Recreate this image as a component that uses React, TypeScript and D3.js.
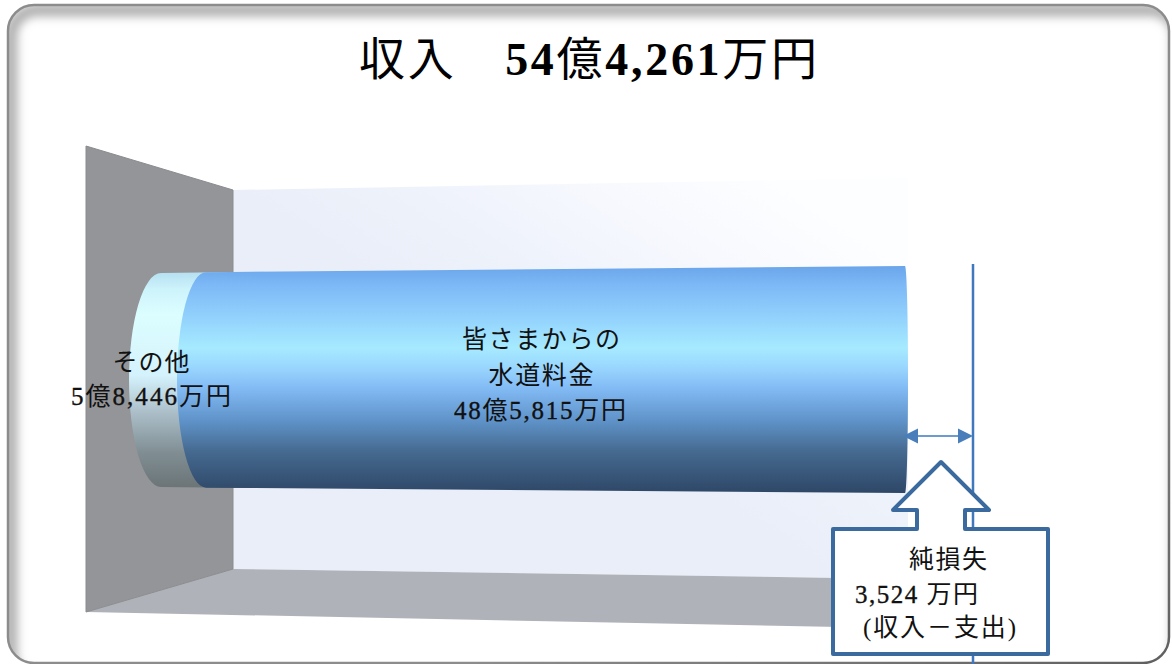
import React from "react";
import * as d3 from "d3";

// Amounts in units of 10,000 yen
const segmentNames = ["その他", "水道料金"];
const segmentValues = [58446, 485815];
const netLoss = 3524;

const titleText = "収入　54億4,261万円";
const otherLabel = ["その他", "5億8,446万円"];
const waterLabel = ["皆さまからの", "水道料金", "48億5,815万円"];
const lossLabel = ["純損失", "3,524 万円", "(収入－支出)"];

const W = 1172;
const H = 664;
const FONT = "'Liberation Serif','Noto Sans CJK JP',serif";
const total = d3.sum(segmentValues);

// The bar is drawn in perspective, so each stretch has its own pixel rate
const x = d3
  .scaleLinear()
  .domain([0, segmentValues[0], total, total + netLoss])
  .range([161, 206, 905, 973]);
const yTop = d3.scaleLinear().domain([0, total]).range([273, 266]);
const yBottom = d3.scaleLinear().domain([0, total]).range([487, 493]);

const stack = d3.pairs([0, ...d3.cumsum(segmentValues)]);
const capRx = [32, 29];

function cylinderPath(v0: number, v1: number, rxLeft: number, rxRight: number) {
  const x0 = x(v0);
  const x1 = x(v1);
  const t0 = yTop(v0);
  const t1 = yTop(v1);
  const b0 = yBottom(v0);
  const b1 = yBottom(v1);
  const ryL = (b0 - t0) / 2;
  const ryR = (b1 - t1) / 2;
  return (
    `M${x0},${t0}L${x1},${t1}` +
    `A${rxRight},${ryR} 0 0 1 ${x1},${b1}` +
    `L${x0},${b0}` +
    `A${rxLeft},${ryL} 0 0 1 ${x0},${t0}Z`
  );
}

const outline = d3.line();

const wallLeft: [number, number][] = [[86, 146], [233, 190], [233, 569], [86, 612]];
const wallBack: [number, number][] = [[233, 190], [908, 178], [908, 579], [233, 569]];
const floor: [number, number][] = [[233, 569], [86, 612], [840, 627], [840, 578]];
const calloutShape: [number, number][] = [
  [941, 462], [989, 510], [965, 510], [965, 529], [1048, 529], [1048, 654],
  [833, 654], [833, 529], [917, 529], [917, 510], [893, 510],
];

const waterStops: [string, string][] = [
  ["0%", "#6aa5ea"], ["8%", "#7cb8f6"], ["24%", "#94d4fd"], ["36%", "#a6eaff"],
  ["44%", "#9bd8ff"], ["54%", "#82baf4"], ["68%", "#5f93c9"], ["82%", "#45698f"],
  ["100%", "#2e4767"],
];
const otherStops: [string, string][] = [
  ["0%", "#b5dff1"], ["8%", "#cdf3fb"], ["20%", "#dcfeff"], ["48%", "#d4f2fc"],
  ["66%", "#a9bcc6"], ["84%", "#7f8d92"], ["100%", "#6b7477"],
];
const wallStops: [string, string][] = [
  ["25%", "#e9eef8"], ["48%", "#eef2fb"], ["76%", "#f7f9fe"], ["100%", "#fdfeff"],
];

// Numerals set heavier than the kanji around them
function Digits({ text, weight, stroke }: { text: string; weight?: string; stroke?: number }) {
  const runs = text.match(/[0-9,]+|[^0-9,]+/g) ?? [];
  return (
    <>
      {runs.map((run, i) =>
        /^[0-9,]/.test(run) ? (
          <tspan key={i} fontWeight={weight} stroke={stroke ? "#111" : undefined} strokeWidth={stroke}>
            {run}
          </tspan>
        ) : (
          <tspan key={i}>{run}</tspan>
        )
      )}
    </>
  );
}

export default function App() {
  const lineX = x(total + netLoss);
  const endX = x(total);
  return (
    <svg
      width={W}
      height={H}
      viewBox={`0 0 ${W} ${H}`}
      style={{ position: "fixed", left: 0, top: 0, display: "block", background: "#fff" }}
      fontFamily={FONT}
    >
      <defs>
        <clipPath id="frameClip">
          <rect x={8} y={5} width={1161} height={658} rx={26} />
        </clipPath>
        <filter id="soft" x="-10%" y="-10%" width="120%" height="120%">
          <feGaussianBlur stdDeviation="5" />
        </filter>
        <linearGradient id="frameEdge" x1="0" y1="0" x2="1" y2="1">
          <stop offset="0%" stopColor="#8c8c8c" />
          <stop offset="70%" stopColor="#8c8c8c" />
          <stop offset="100%" stopColor="#5f5f5f" />
        </linearGradient>
        <linearGradient id="backWall" x1="0.25" y1="0.6" x2="0.85" y2="0.05">
          {wallStops.map(([o, c]) => <stop key={o} offset={o} stopColor={c} />)}
        </linearGradient>
        <linearGradient id="seg0" x1="0" y1="0" x2="0" y2="1">
          {otherStops.map(([o, c]) => <stop key={o} offset={o} stopColor={c} />)}
        </linearGradient>
        <linearGradient id="seg1" x1="0" y1="0" x2="0" y2="1">
          {waterStops.map(([o, c]) => <stop key={o} offset={o} stopColor={c} />)}
        </linearGradient>
      </defs>

      {/* Slide frame with a bevelled inner edge, heaviest along the top and left */}
      <rect x={8} y={5} width={1161} height={658} rx={26} fill="#fff" />
      <g clipPath="url(#frameClip)">
        <rect x={11} y={10} width={1166} height={670} rx={26} fill="none" stroke="#b0b0b0" strokeWidth={13} filter="url(#soft)" />
      </g>
      <rect x={8} y={5} width={1161} height={658} rx={26} fill="none" stroke="url(#frameEdge)" strokeWidth={2.5} />

      {/* Room behind the bar */}
      <path d={outline(wallBack)! + "Z"} fill="url(#backWall)" />
      <path d={outline(floor)! + "Z"} fill="#b0b2b9" />
      <path d={outline(wallLeft)! + "Z"} fill="#939598" stroke="#8a8c8f" strokeWidth={1} />

      {/* Stacked cylinder; each piece runs under the rounded end of the next */}
      {stack.map(([v0, v1], i) => (
        <path
          key={segmentNames[i]}
          d={cylinderPath(v0, i === 0 ? v1 + 40000 : v1, capRx[i], i === 0 ? capRx[1] : 3)}
          fill={`url(#seg${i})`}
        />
      ))}

      {/* Gap between income and expense */}
      <line x1={lineX} x2={lineX} y1={264} y2={H} stroke="#3f78bd" strokeWidth={2.5} />
      <line x1={endX + 8} x2={lineX - 8} y1={436} y2={436} stroke="#6d9bd0" strokeWidth={2} />
      <path d={`M${endX - 2},436l15,-7.5v15Z`} fill="#4a7ebb" />
      <path d={`M${lineX},436l-15,-7.5v15Z`} fill="#4a7ebb" />

      {/* Callout */}
      <path
        d={outline(calloutShape)! + "Z"}
        fill="#fff"
        stroke="#3a6a9e"
        strokeWidth={4}
        strokeLinejoin="round"
      />

      <text x={588} y={75} fontSize={46} textAnchor="middle" textLength={458} lengthAdjust="spacing" fill="#000">
        <Digits text={titleText} weight="bold" />
      </text>

      <g fontSize={25} fill="#111">
        <text x={151} y={371} textAnchor="middle" textLength={77}>{otherLabel[0]}</text>
        <text x={151} y={405} textAnchor="middle" textLength={160}><Digits text={otherLabel[1]} stroke={0.35} /></text>
        <text x={541} y={348} textAnchor="middle" textLength={158}>{waterLabel[0]}</text>
        <text x={541} y={384} textAnchor="middle" textLength={105}>{waterLabel[1]}</text>
        <text x={540} y={419} textAnchor="middle" textLength={172}><Digits text={waterLabel[2]} stroke={0.35} /></text>
        <text x={948} y={568} textAnchor="middle" textLength={78}>{lossLabel[0]}</text>
        <text x={855} y={603} textLength={123}><Digits text={lossLabel[1]} stroke={0.35} /></text>
        <text x={863} y={636} textLength={153}>{lossLabel[2]}</text>
      </g>
    </svg>
  );
}
